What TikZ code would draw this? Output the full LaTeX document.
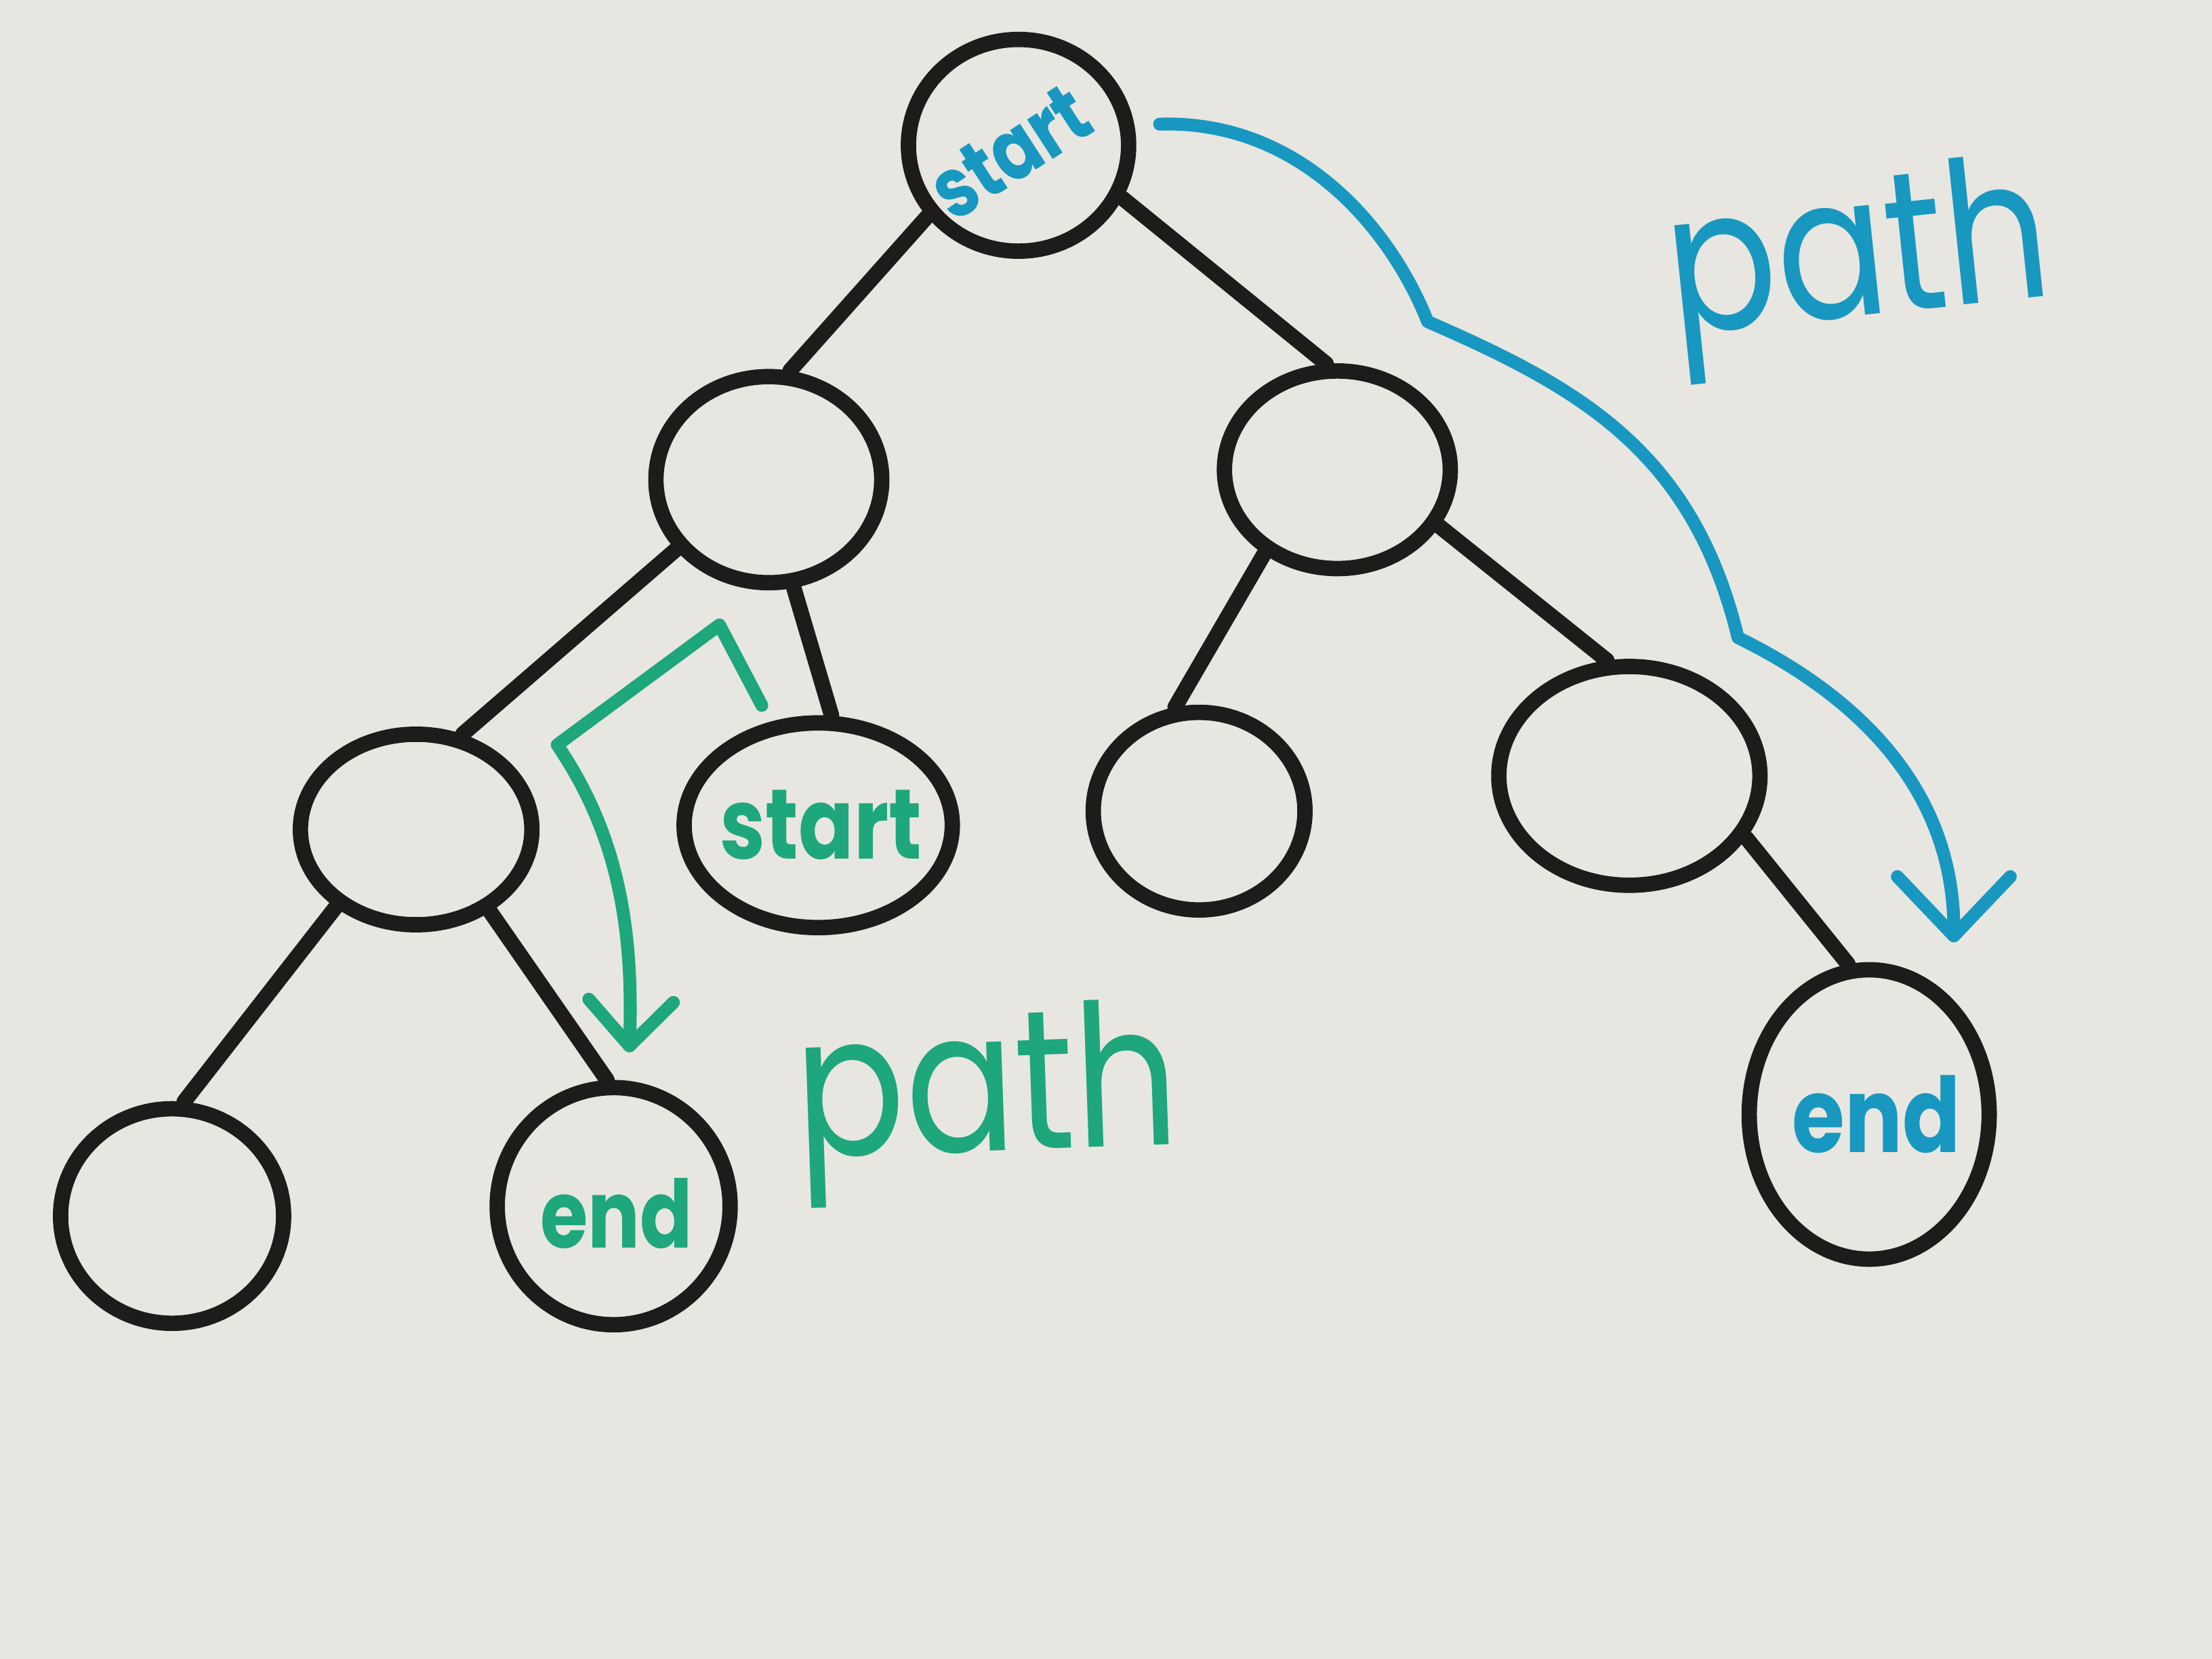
\documentclass[tikz,border=0pt]{standalone}
\usepackage{fontspec}
\setmainfont{Poppins}
\usetikzlibrary{arrows.meta,
	shapes.geometric}
\definecolor{board}{RGB}{232,230,224}
\definecolor{ink}{RGB}{30,28,26}
\definecolor{bluepen}{RGB}{24,152,192}
\definecolor{greenpen}{RGB}{30,166,124}
\newcommand{\narrow}[1]{\scalebox{0.82}[1]{#1}}

\begin{document}
\begin{tikzpicture}[x=0.01cm,y=-0.01cm]
        \tikzstyle{vertex}=[ellipse,draw=ink,line width=3.1pt,inner sep=0pt]
        \tikzstyle{edge}=[draw=ink,line width=3.1pt,line cap=round]
        \tikzstyle{route}=[line width=2.6pt,line cap=round,line join=round]
        \tikzstyle{word}=[inner sep=0pt]
        \fill[board] (0,0) rectangle (1568,1176);
        \useasboundingbox (0,0) rectangle (1568,1176);
        % tree
        \node[vertex,minimum width=1.56cm,minimum height=1.50cm] (n_1) at (722,103) {};
        \node[vertex,minimum width=1.60cm,minimum height=1.46cm] (n_2) at (545,340) {};
        \node[vertex,minimum width=1.60cm,minimum height=1.40cm] (n_3) at (948,333) {};
        \node[vertex,minimum width=1.64cm,minimum height=1.35cm] (n_4) at (295,588) {};
        \node[vertex,minimum width=1.90cm,minimum height=1.45cm] (n_5) at (580,585) {};
        \node[vertex,minimum width=1.50cm,minimum height=1.40cm] (n_6) at (850,575) {};
        \node[vertex,minimum width=1.85cm,minimum height=1.55cm] (n_7) at (1155,550) {};
        \node[vertex,minimum width=1.58cm,minimum height=1.52cm] (n_8) at (122,862) {};
        \node[vertex,minimum width=1.65cm,minimum height=1.68cm] (n_9) at (435,855) {};
        \node[vertex,minimum width=1.70cm,minimum height=2.05cm] (n_10) at (1325,790) {};
        \draw[edge] (n_1.-142) -- (n_2.79);
        \draw[edge] (n_1.-27) -- (n_3.96);
        \draw[edge] (n_2.-143) -- (n_4.64);
        \draw[edge] (n_2.-77) -- (n_5.83);
        \draw[edge] (n_3.-131) -- (n_6.103);
        \draw[edge] (n_3.-29) -- (n_7.101);
        \draw[edge] (n_4.-136) -- (n_8.84);
        \draw[edge] (n_4.-48) -- (n_9.93);
        \draw[edge] (n_7.-28) -- (n_10.98);
        % texts
        \node[word,text=bluepen,font=\fontsize{17}{17}\bfseries,rotate=33] (t_1) at (716,108) {\narrow{start}};
        \node[word,text=greenpen,font=\fontsize{20}{20}\bfseries] (t_5) at (582,585) {\narrow{start}};
        \node[word,text=greenpen,font=\fontsize{19}{19}\bfseries] (t_9) at (437,860) {\narrow{end}};
        \node[word,text=bluepen,font=\fontsize{21}{21}\bfseries] (t_10) at (1330,790) {\narrow{end}};
        % routes
        \coordinate (b_0) at (822,88);
        \coordinate (b_1) at (1385,668);
        \coordinate (g_0) at (540,500);
        \coordinate (g_1) at (446,746);
        \draw[route,draw=bluepen,-{Straight Barb[length=0.42cm,width=0.8cm,round]}]
          (b_0) .. controls (920,85) and (985,160) .. (1012,228)
          .. controls (1120,275) and (1200,320) .. (1232,452)
          .. controls (1330,500) and (1385,570) .. (b_1);
        \draw[route,draw=greenpen,-{Straight Barb[length=0.32cm,width=0.6cm,round]}]
          (g_0) -- (510,443) -- (395,528)
          .. controls (430,580) and (450,640) .. (g_1);
        \node[word,text=bluepen,font=\fontsize{40}{40}\selectfont,rotate=6] (p_1) at (1318,190) {\narrow{path}};
        \node[word,text=greenpen,font=\fontsize{40}{40}\selectfont,rotate=2] (p_2) at (700,782) {\narrow{path}};
\end{tikzpicture}
\end{document}
